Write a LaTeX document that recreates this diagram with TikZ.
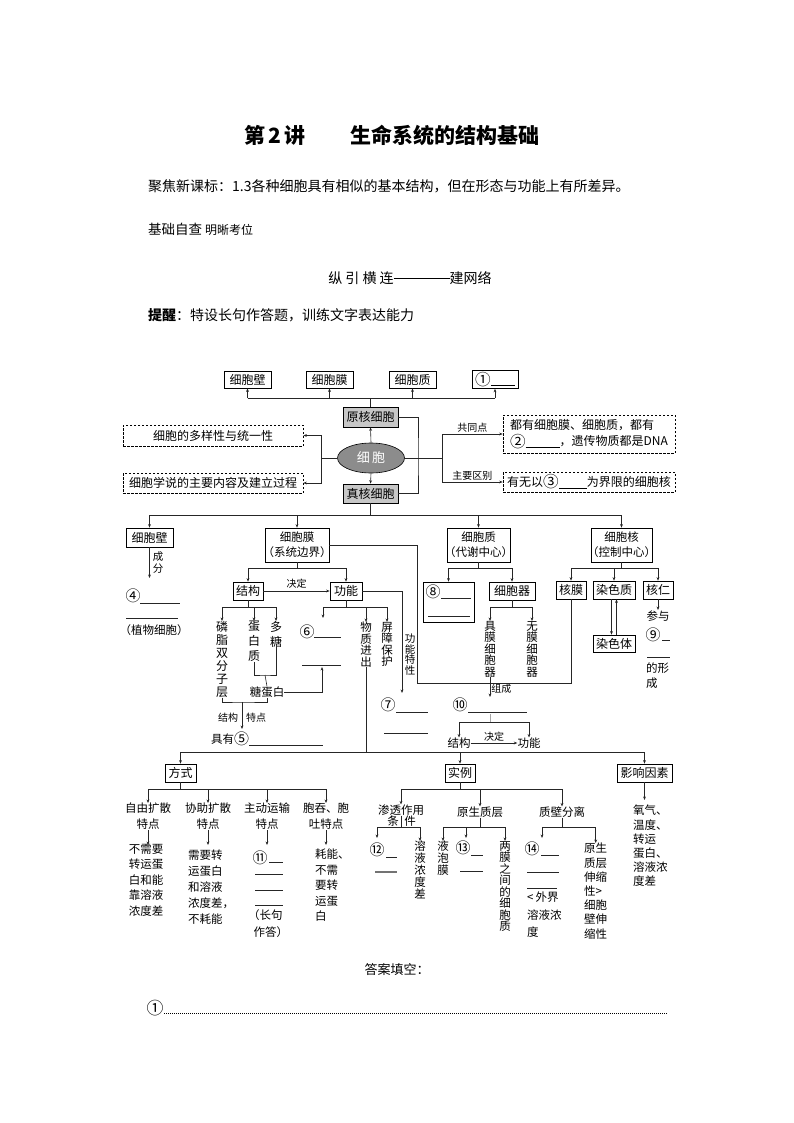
\documentclass[tikz,border=0pt]{standalone}
\usepackage{fontspec}
\usepackage{graphicx}
\setmainfont{Noto Sans CJK SC}
\usetikzlibrary{arrows.meta,shapes.geometric}
\newcommand\fsz[2]{\fontsize{#1}{#2}\selectfont}
\newcommand\blk[1]{\rule[-2pt]{#1pt}{0.5pt}}
\newcommand\LPx{\makebox[6pt][r]{（}}
\newcommand\RPx{\makebox[6pt][l]{）}}
\newcommand\cn[1]{\raisebox{-0.12em}{\scalebox{1.3}{#1}}}
\begin{document}
\begin{tikzpicture}[x=1pt,y=-1pt,
 bx/.style={draw, line width=0.7pt, inner sep=0pt, font=\fsz{12}{14}},
 gbx/.style={bx, fill=black!22},
 dbx/.style={draw, dash pattern=on 2.5pt off 1.5pt, line width=0.6pt, inner sep=0pt, font=\fsz{12}{14}},
 ln/.style={line width=0.6pt, draw=black!85},
 ar/.style={ln, -{Stealth[length=3.5pt,width=2.8pt]}},
 vt/.style={inner sep=0pt, align=center, font=\fsz{12}{13}},
 tx/.style={inner sep=0pt, font=\fsz{11.5}{15.5}},
 lab/.style={inner sep=1pt, font=\fsz{10}{11}}]
\useasboundingbox (0,0) rectangle (794,1123);
\fill[white] (0,0) rectangle (794,1123);
% header
\node[font=\fsz{21}{24}\bfseries] (t1) at (275,135) {第\,2\,讲};
\node[font=\fsz{21}{24}\bfseries] (t2) at (445,135) {生命系统的结构基础};
\node[anchor=west, inner sep=0pt, font=\fsz{14}{16}] (h1) at (148,186) {聚焦新课标：1.3各种细胞具有相似的基本结构，但在形态与功能上有所差异。};
\node[anchor=west, inner sep=0pt, font=\fsz{13.5}{16}] (h2) at (148,229) {基础自查\ {\fsz{12}{14}明晰考位}};
\node[inner sep=0pt, font=\fsz{14}{16}] (h3) at (410,278) {纵\ 引\ 横\ 连\rule[4.5pt]{56pt}{0.6pt}建网络};
\node[anchor=west, inner sep=0pt, font=\fsz{14}{16}] (h4) at (148,315) {\textbf{提醒}：特设长句作答题，训练文字表达能力};
% top row
\node[bx, minimum width=47, minimum height=17] (wallT) at (247.5,379.5) {细胞壁};
\node[bx, minimum width=47, minimum height=17] (memT) at (329.5,379.5) {细胞膜};
\node[bx, minimum width=47, minimum height=17] (cytT) at (412.5,379.5) {细胞质};
\node[bx, minimum width=46, minimum height=18] (q1) at (495,379.5) {\cn{①}\blk{24}};
\node[gbx, minimum width=55, minimum height=20] (pro) at (370.5,417) {原核细胞};
\node[ellipse, draw, line width=0.6pt, fill=black!45, minimum width=67, minimum height=30, inner sep=0pt, font=\fsz{13}{14}, text=white] (cell) at (371,458) {细\,胞};
\node[gbx, minimum width=55, minimum height=19] (euk) at (370.5,493.5) {真核细胞};
\coordinate (topbus) at (370.5,398);
\draw[ln] (pro.north) -- (topbus);
\draw[ln] (wallT.south |- topbus) -- (q1.south |- topbus);
\foreach \n in {wallT,memT,cytT,q1} \draw[ar] (\n.south |- topbus) -- (\n.south);
\draw[ar] (cell.north) -- (pro.south);
\draw[ar] (cell.south) -- (euk.north);
% left
\node[dbx, minimum width=180, minimum height=21] (d1) at (213,435.5) {细胞的多样性与统一性};
\node[dbx, minimum width=180, minimum height=20] (d2) at (213,483) {细胞学说的主要内容及建立过程};
\coordinate (lj) at (321,458);
\draw[ln] (cell.west) -- (lj);
\draw[ar] (lj) |- (d1.east);
\draw[ar] (lj) |- (d2.east);
% right
\coordinate (rj) at (418,458);
\coordinate (rk) at (442,458);
\draw[ln] (pro.east) -| (rj) |- (euk.east);
\draw[ln] (cell.east) -- (rk);
\node[dbx, minimum width=172, minimum height=38, align=left, font=\fsz{12}{16}] (d3) at (589,434) {都有细胞膜、细胞质，都有\\\cn{②}\blk{34}，遗传物质都是DNA};
\node[dbx, minimum width=172, minimum height=20] (d4) at (589,482) {有无以\cn{③}\blk{28}为界限的细胞核};
\draw[ar] (rk) |- (d3.west) node[lab, pos=0.75, above] {共同点};
\draw[ar] (rk) |- (d4.west) node[lab, pos=0.75, above] {主要区别};
% level 2
\coordinate (bus2) at (370.5,515);
\draw[ln] (euk.south) -- (bus2);
\node[bx, minimum width=47, minimum height=19] (wall) at (149.5,537.5) {细胞壁};
\node[bx, minimum width=64, minimum height=34, align=center, font=\fsz{11.5}{15}] (mem) at (297,545) {细胞膜\\\LPx 系统边界\RPx};
\node[bx, minimum width=63, minimum height=34, align=center, font=\fsz{11.5}{15}] (cyt) at (478.5,545) {细胞质\\\LPx 代谢中心\RPx};
\node[bx, minimum width=61, minimum height=34, align=center, font=\fsz{11.5}{15}] (nuc) at (621.5,545) {细胞核\\\LPx 控制中心\RPx};
\draw[ln] (wall.north |- bus2) -- (nuc.north |- bus2);
\foreach \n in {wall,mem,cyt,nuc} \draw[ar] (\n.north |- bus2) -- (\n.north);
% cell wall
\coordinate (q4a) at (149.5,578);
\draw[ar] (wall.south) -- (q4a);
\node[lab, font=\fsz{10.5}{12}, align=center] (cf) at (158,563) {成\\分};
\node[tx] (q4) at (133,596) {\cn{④}};
\draw[ln] (140,603) -- (180,603);
\draw[ln] (126,618) -- (178,618);
\node[tx] (zw) at (154,630) {\LPx 植物细胞\RPx};
% membrane
\coordinate (mj) at (297,568);
\node[bx, minimum width=30, minimum height=18] (struct) at (248,591) {结构};
\node[bx, minimum width=32, minimum height=18] (func) at (346,591) {功能};
\draw[ln] (mem.south) -- (mj);
\draw[ln] (struct.north |- mj) -- (func.north |- mj);
\draw[ar] (struct.north |- mj) -- (struct.north);
\draw[ar] (func.north |- mj) -- (func.north);
\draw[ar] (struct.east) -- (func.west) node[lab, midway, above=1pt] {决定};
% structure
\coordinate (sj) at (248,607);
\node[vt, anchor=north] (lz) at (222,621) {磷\\脂\\双\\分\\子\\层};
\node[vt, anchor=north, font=\fsz{12}{15}] (dbz) at (254,621) {蛋\\白\\质};
\node[vt, anchor=north, font=\fsz{12}{15}] (dt) at (276,621) {多\\糖};
\draw[ln] (struct.south) -- (sj);
\draw[ln] (lz.north |- sj) -- (dt.north |- sj);
\foreach \n in {lz,dbz,dt} \draw[ar] (\n.north |- sj) -- (\n.north);
\coordinate (tj) at (265,675);
\draw[ln] (dbz.south) |- (tj) -| (dt.south);
\node[tx] (tdb) at (267,692) {糖蛋白};
\draw[ln] (tj) -- (tdb.north);
\coordinate (q6b) at (322,667);
\draw[ar] (tdb.east) -| (q6b);
\coordinate (bj) at (242,702);
\draw[ln] (lz.south) |- (bj) -| (tdb.south);
\node[tx] (jy5) at (230,739) {具有\cn{⑤}};
\coordinate (jy5t) at (242,729);
\draw[ar] (bj) -- (jy5t);
\node[lab] (jgl) at (228,718) {结构};
\node[lab] (tdl) at (256,718) {特点};
\draw[ln] (249,745) -- (323,745);
% function
\coordinate (fj) at (346,607);
\coordinate (q6t) at (323,618);
\node[vt, anchor=north, font=\fsz{11.5}{11.5}] (wz) at (366,622) {物\\质\\进\\出};
\node[vt, anchor=north, font=\fsz{11.5}{11.5}] (pz) at (387,622) {屏\\障\\保\\护};
\draw[ln] (func.south) -- (fj);
\draw[ln] (q6t |- fj) -- (pz.north |- fj);
\draw[ar] (q6t |- fj) -- (q6t);
\draw[ar] (wz.north |- fj) -- (wz.north);
\draw[ar] (pz.north |- fj) -- (pz.north);
\node[tx] (q6) at (307,632) {\cn{⑥}};
\draw[ln] (314,637) -- (341,637);
\draw[ln] (302,665) -- (341,665);
\coordinate (bus3w) at (366,752);
\draw[ln] (wz.south) -- (bus3w);
\coordinate (gc) at (402,591);
\coordinate (q7t) at (402,693);
\draw[ar] (func.east) -- (gc) -- (q7t);
\node[vt, font=\fsz{10.5}{10.5}, anchor=north] (gntx) at (410,634) {功\\能\\特\\性};
\node[tx] (q7) at (388,705) {\cn{⑦}};
\draw[ln] (396,712) -- (428,712);
\draw[ln] (384,733) -- (428,733);
% cytoplasm
\coordinate (cj) at (478.5,568);
\node[bx, minimum width=51, minimum height=40] (q8) at (448.5,602) {};
\node[tx] (q8n) at (433,592) {\cn{⑧}};
\draw[ln] (441,598) -- (471,598);
\draw[ln] (428,616) -- (470,616);
\node[bx, minimum width=46, minimum height=18] (organ) at (512,591) {细胞器};
\draw[ln] (cyt.south) -- (cj);
\draw[ln] (q8.north |- cj) -- (organ.north |- cj);
\draw[ar] (q8.north |- cj) -- (q8.north);
\draw[ar] (organ.north |- cj) -- (organ.north);
\coordinate (oj) at (512,607);
\node[vt, anchor=north, font=\fsz{11.5}{11.5}] (jm) at (490,621) {具\\膜\\细\\胞\\器};
\node[vt, anchor=north, font=\fsz{11.5}{11.5}] (wm) at (532,621) {无\\膜\\细\\胞\\器};
\draw[ln] (organ.south) -- (oj);
\draw[ln] (jm.north |- oj) -- (wm.north |- oj);
\draw[ar] (jm.north |- oj) -- (jm.north);
\draw[ar] (wm.north |- oj) -- (wm.north);
\coordinate (zc) at (490,697);
\draw[ar] (jm.south) -- (zc) node[lab, pos=0.6, right] {组成};
\node[tx] (q10) at (460,705) {\cn{⑩}};
\draw[ln] (468,712) -- (527,712);
\coordinate (q10b) at (490,714);
\coordinate (kj) at (490,722);
\draw[ln, draw=black!35] (q10b) -- (kj);
\node[tx] (jg2) at (459,743) {结构};
\node[tx] (gn2) at (529,743) {功能};
\draw[ln] (jg2.north |- kj) -- (gn2.north |- kj);
\draw[ar] (jg2.north |- kj) -- (jg2.north);
\draw[ar] (gn2.north |- kj) -- (gn2.north);
\draw[ar] (jg2.east) -- (gn2.west) node[lab, midway, above] {决定};
% nucleus
\coordinate (nj) at (621.5,568);
\node[bx, minimum width=30, minimum height=18] (nm) at (571,590) {核膜};
\node[bx, minimum width=42, minimum height=18] (chrt) at (614,590) {染色质};
\node[bx, minimum width=30, minimum height=18] (nucl) at (658,590) {核仁};
\node[bx, minimum width=42, minimum height=17] (chrm) at (614,643.5) {染色体};
\draw[ln] (nuc.south) -- (nj);
\draw[ln] (nm.north |- nj) -- (nucl.north |- nj);
\foreach \n in {nm,chrt,nucl} \draw[ar] (\n.north |- nj) -- (\n.north);
\draw[ar] ([xshift=-2.5pt]chrt.south) -- ([xshift=-2.5pt]chrm.north);
\draw[ar] ([xshift=2.5pt]chrm.north) -- ([xshift=2.5pt]chrt.south);
\coordinate (cy) at (658,610);
\draw[ar] (nucl.south) -- (cy);
\node[tx, anchor=north] (cy1) at (658,611) {参与};
\node[tx] (q9) at (653,635) {\cn{⑨}};
\draw[ln] (662,640) -- (670,640);
\draw[ln] (647,657) -- (670,657);
\node[tx, anchor=west] (dx) at (646,668) {的形};
\node[tx, anchor=west] (dx2) at (646,683) {成};
\coordinate (bigc) at (417,683);
\draw[ln] (mem.east) -| (bigc) -| (nm.south);
% bus 3
\coordinate (b3L) at (180.5,752);
\coordinate (b3R) at (644.5,752);
\draw[ln] (b3L) -- (b3R);
\node[bx, minimum width=31, minimum height=18] (fs) at (180.5,773) {方式};
\node[bx, minimum width=30, minimum height=18] (sl) at (460,773) {实例};
\node[bx, minimum width=55, minimum height=18] (yx) at (644.5,773) {影响因素};
\foreach \n in {fs,sl,yx} \draw[ar] (\n.north |- b3L) -- (\n.north);
% ways
\coordinate (fj2) at (180.5,789);
\node[tx, align=center, anchor=north, font=\fsz{11.5}{16}] (c1h) at (148,803) {自由扩散\\特点};
\node[tx, align=center, anchor=north, font=\fsz{11.5}{16}] (c2h) at (208,803) {协助扩散\\特点};
\node[tx, align=center, anchor=north, font=\fsz{11.5}{16}] (c3h) at (267,803) {主动运输\\特点};
\node[tx, align=center, anchor=north, font=\fsz{11.5}{16}] (c4h) at (326,803) {胞吞、胞\\吐特点};
\draw[ln] (fs.south) -- (fj2);
\draw[ln] (c1h.north |- fj2) -- (c4h.north |- fj2);
\foreach \n in {c1h,c2h,c3h,c4h} \draw[ar] (\n.north |- fj2) -- (\n.north);
\coordinate (c1a) at (148,845);
\coordinate (c2a) at (208,845);
\coordinate (c3a) at (267,845);
\coordinate (c4a) at (326,845);
\draw[ar] (c1h.south) -- (c1a);
\draw[ar] (c2h.south) -- (c2a);
\draw[ar] (c3h.south) -- (c3a);
\draw[ar] (c4h.south) -- (c4a);
\node[tx, align=center, anchor=north, font=\fsz{11.5}{15.5}] (c1b) at (146,844) {不需要\\转运蛋\\白和能\\靠溶液\\浓度差};
\node[tx, align=left, anchor=north west, font=\fsz{11.5}{16}] (c2b) at (188,850) {需要转\\运蛋白\\和溶液\\浓度差，\\不耗能};
\node[tx] (q11) at (260,858) {\cn{⑪}};
\draw[ln] (269,862) -- (283,862);
\draw[ln] (255,874) -- (283,874);
\draw[ln] (255,890) -- (283,890);
\draw[ln] (255,905) -- (283,905);
\node[tx, align=center, font=\fsz{11.5}{17}] (c3b) at (268,923.5) {\LPx 长句\\作答\RPx};
\node[tx, align=left, anchor=north west, font=\fsz{11.5}{15.5}] (c4b) at (315,849) {耗能、\\不需\\要转\\运蛋\\白};
% examples
\coordinate (sj2) at (460,789);
\node[tx] (stzy) at (401,810) {渗透作用};
\node[tx] (ysz) at (480,812) {原生质层};
\node[tx] (zbfl) at (562,812) {质壁分离};
\draw[ln] (sl.south) -- (sj2);
\draw[ln] (stzy.north |- sj2) -- (zbfl.north |- sj2);
\foreach \n in {stzy,ysz,zbfl} \draw[ar] (\n.north |- sj2) -- (\n.north);
\coordinate (stj) at (401,827);
\node[tx] (tiao) at (393,821) {条};
\node[tx] (jian) at (410,821) {件};
\draw[ln] (stzy.south) -- (stj);
\coordinate (q12t) at (377,838);
\node[vt, anchor=north, font=\fsz{11.5}{12}] (ry) at (420,841) {溶\\液\\浓\\度\\差};
\draw[ln] (q12t |- stj) -- (ry.north |- stj);
\draw[ar] (q12t |- stj) -- (q12t);
\draw[ar] (ry.north |- stj) -- (ry.north);
\node[tx] (q12) at (377,850) {\cn{⑫}};
\draw[ln] (386,857) -- (397,857);
\draw[line width=1.3pt, black!55] (375,872) -- (397,872);
\coordinate (yj) at (480,827);
\node[vt, anchor=north, font=\fsz{11.5}{12}] (ypm) at (443,841) {液\\泡\\膜};
\coordinate (q13t) at (466,838);
\node[vt, anchor=north, font=\fsz{11.5}{11.5}] (lm) at (505,841) {两\\膜\\之\\间\\的\\细\\胞\\质};
\draw[ln] (ysz.south) -- (yj);
\draw[ln] (ypm.north |- yj) -- (lm.north |- yj);
\draw[ar] (ypm.north |- yj) -- (ypm.north);
\draw[ar] (q13t |- yj) -- (q13t);
\draw[ar] (lm.north |- yj) -- (lm.north);
\node[tx] (q13) at (463,848) {\cn{⑬}};
\draw[ln] (471,855) -- (483,855);
\draw[ln] (460,871) -- (483,871);
\coordinate (zj) at (562,827);
\coordinate (q14t) at (542,838);
\node[tx, align=left, anchor=north west, font=\fsz{11.5}{14.2}] (yszr) at (584,843) {原生\\质层\\伸缩\\性>\\细胞\\壁伸\\缩性};
\draw[ln] (zbfl.south) -- (zj);
\draw[ln] (q14t |- zj) -- (yszr.north |- zj);
\draw[ar] (q14t |- zj) -- (q14t);
\draw[ar] (yszr.north |- zj) -- (yszr.north);
\node[tx] (q14) at (532,849) {\cn{⑭}};
\draw[ln] (541,855) -- (559,855);
\draw[ln] (527,872) -- (559,872);
\draw[ln] (527,888) -- (557,888);
\node[tx, align=left, anchor=north west, font=\fsz{11.5}{17.5}] (wj) at (527,892) {<\,外界\\溶液浓\\度};
% factors
\coordinate (yxa) at (644.5,800);
\draw[ar] (yx.south) -- (yxa);
\node[tx, align=left, anchor=north west, font=\fsz{11.5}{14.2}] (yxb) at (633,805) {氧气、\\温度、\\转运\\蛋白、\\溶液浓\\度差};
% footer
\node[font=\fsz{13}{15}] (dakt) at (397,970) {答案填空：};
\node[font=\fsz{13}{15}, inner sep=0pt] (a1) at (155,1008) {\cn{①}};
\draw[line width=0.5pt, dash pattern=on 1pt off 1pt] (164,1013) -- (667,1013);
\end{tikzpicture}
\end{document}
